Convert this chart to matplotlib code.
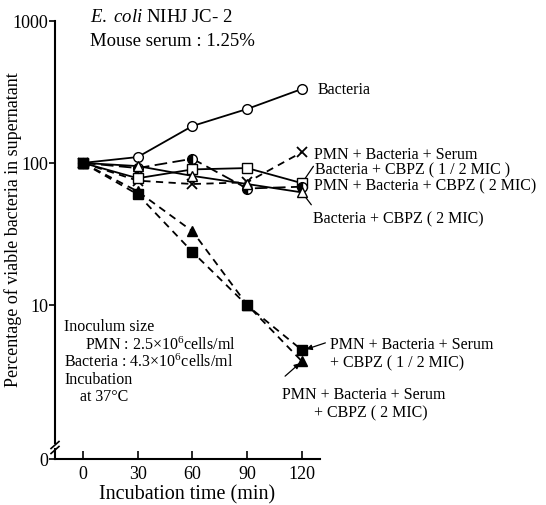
import matplotlib
matplotlib.use("Agg")
import matplotlib.pyplot as plt
import numpy as np

plt.rcParams['font.family'] = ['Liberation Serif', 'DejaVu Serif']
plt.rcParams['mathtext.fontset'] = 'custom'
plt.rcParams['mathtext.rm'] = 'Liberation Serif'
plt.rcParams['mathtext.it'] = 'Liberation Serif:italic'

times = [0, 30, 60, 90, 120]
bacteria = [100, 110, 182, 240, 332]
pmn_bact_serum = [100, 75, 71, 73, 119]
bact_cbpz_half = [100, 78, 90, 92, 72]
pmn_bact_cbpz2 = [100, 92, 107, 66, 68]
bact_cbpz2 = [100, 95, 81, 71, 62]
pmn_serum_cbpz_half = [100, 60, 23.6, 9.9, 4.8]
pmn_serum_cbpz2 = [100, 63, 33, 10, 4.0]

xticks = [0, 30, 60, 90, 120]
yticks = [10, 100, 1000]
ybottom = 0.82

W, H = 546, 506
fig = plt.figure(figsize=(W / 100, H / 100), dpi=100)
ax = fig.add_axes([55 / W, 1 - 460 / H, 265 / W, 438 / H])
ax.set_yscale('log')
ax.set_xlim(-15.3, 129.9)
ax.set_ylim(ybottom, 1000)

lw = 1.3
ms = 7
ax.plot(times, bacteria, '-', color='black', lw=lw, marker='o', ms=ms, mfc='white', mec='black', zorder=5)
ax.plot(times, pmn_bact_serum, color='black', lw=lw, ls=(0, (4, 3)), marker='x', ms=ms, mew=1.3, zorder=4)
ax.plot(times, bact_cbpz_half, '-', color='black', lw=lw, marker='s', ms=ms, mfc='white', mec='black', zorder=5)
ax.plot(times, pmn_bact_cbpz2, color='black', lw=lw, ls=(0, (7, 3)), marker='o', ms=ms,
        fillstyle='left', mfc='black', mfcalt='white', mec='black', zorder=5)
ax.plot(times, bact_cbpz2, '-', color='black', lw=lw, marker='^', ms=ms, mfc='white', mec='black', zorder=5)
ax.plot(times, pmn_serum_cbpz_half, color='black', lw=lw, ls=(0, (4, 3)), marker='s', ms=ms, mfc='black', mec='black', zorder=5)
ax.plot(times, pmn_serum_cbpz2, color='black', lw=lw, ls=(0, (4, 3)), marker='^', ms=ms, mfc='black', mec='black', zorder=5)

# axes styling
for s in ['top', 'right']:
    ax.spines[s].set_visible(False)
ax.spines['left'].set_linewidth(1.5)
ax.spines['bottom'].set_linewidth(1.5)

def ya(py):
    return (460 - py) / 438.0

ax.spines['left'].set_bounds(10 ** ((164 - 444) / 142 + 2), 1000)
ax.plot([0, 0], [0, ya(450)], color='black', lw=1.5, transform=ax.transAxes, clip_on=False)
for off in (0, 5):
    ax.plot([-0.015, 0.015], [ya(446 + off) - 0.008, ya(446 + off) + 0.008], color='black', lw=1.2,
            transform=ax.transAxes, clip_on=False)

ax.set_xticks(xticks)
ax.set_xticklabels([str(t) for t in xticks])
ax.set_yticks([ybottom] + yticks)
ax.set_yticklabels(['0'] + [str(t) for t in yticks])
ax.yaxis.set_minor_locator(matplotlib.ticker.NullLocator())
ax.tick_params(axis='x', direction='in', length=6, width=1.2, labelsize=13, pad=4)
ax.tick_params(axis='y', direction='out', length=4, width=1.2, labelsize=13, pad=1)

ax.set_xlabel('Incubation time (min)', fontsize=14.5, labelpad=2)
ax.set_ylabel('Percentage of viable bacteria in supernatant', fontsize=13, va='center')
ax.yaxis.set_label_coords(-0.158, 0.525)

def fx(px):
    return px / W

def fy(py):
    return 1 - py / H

# title
fig.text(fx(90), fy(17), r'$\mathit{E.\ coli}$' + ' NIHJ JC- 2', fontsize=13.5, va='center', ha='left')
fig.text(fx(90), fy(42), 'Mouse serum : 1.25%', fontsize=13.5, va='center', ha='left')

fs = 11.5
fig.text(fx(318), fy(90), 'Bacteria', fontsize=fs, va='center')
fig.text(fx(314), fy(155), 'PMN + Bacteria + Serum', fontsize=fs, va='center')
fig.text(fx(315), fy(170), 'Bacteria + CBPZ ( 1 / 2 MIC )', fontsize=fs, va='center')
fig.text(fx(314), fy(186), 'PMN + Bacteria + CBPZ ( 2 MIC)', fontsize=fs, va='center')
fig.text(fx(313), fy(219), 'Bacteria + CBPZ ( 2 MIC)', fontsize=fs, va='center')
fig.text(fx(330), fy(345), 'PMN + Bacteria + Serum', fontsize=fs, va='center')
fig.text(fx(330), fy(363), '+ CBPZ ( 1 / 2 MIC)', fontsize=fs, va='center')
fig.text(fx(282), fy(395), 'PMN + Bacteria + Serum', fontsize=fs, va='center')
fig.text(fx(314), fy(413), '+ CBPZ ( 2 MIC)', fontsize=fs, va='center')

# pointer lines
aprops = dict(arrowstyle='-', color='black', lw=0.9)
ax.annotate('', xy=(120, bact_cbpz_half[-1]), xytext=(fx(315), fy(165)), textcoords='figure fraction',
            arrowprops=aprops)
ax.annotate('', xy=(120, bact_cbpz2[-1]), xytext=(fx(313), fy(208)), textcoords='figure fraction',
            arrowprops=aprops)
ax.annotate('', xy=(121, pmn_serum_cbpz_half[-1]), xytext=(fx(328), fy(343)), textcoords='figure fraction',
            arrowprops=dict(arrowstyle='-|>', color='black', lw=0.9, mutation_scale=8))
ax.annotate('', xy=(120, pmn_serum_cbpz2[-1]), xytext=(fx(283), fy(379)), textcoords='figure fraction',
            arrowprops=dict(arrowstyle='-|>', color='black', lw=0.9, mutation_scale=8))

# lower-left notes
fig.text(fx(64), fy(327), 'Inoculum size', fontsize=fs, va='center')
fig.text(fx(85), fy(345), 'PMN : 2.5×10$^6$cells/ml', fontsize=fs, va='center')
fig.text(fx(64), fy(362), 'Bacteria : 4.3×10$^6$cells/ml', fontsize=fs, va='center')
fig.text(fx(64), fy(380), 'Incubation', fontsize=fs, va='center')
fig.text(fx(80), fy(397), 'at 37°C', fontsize=fs, va='center')

fig.savefig('out.png', dpi=100, facecolor='white')
